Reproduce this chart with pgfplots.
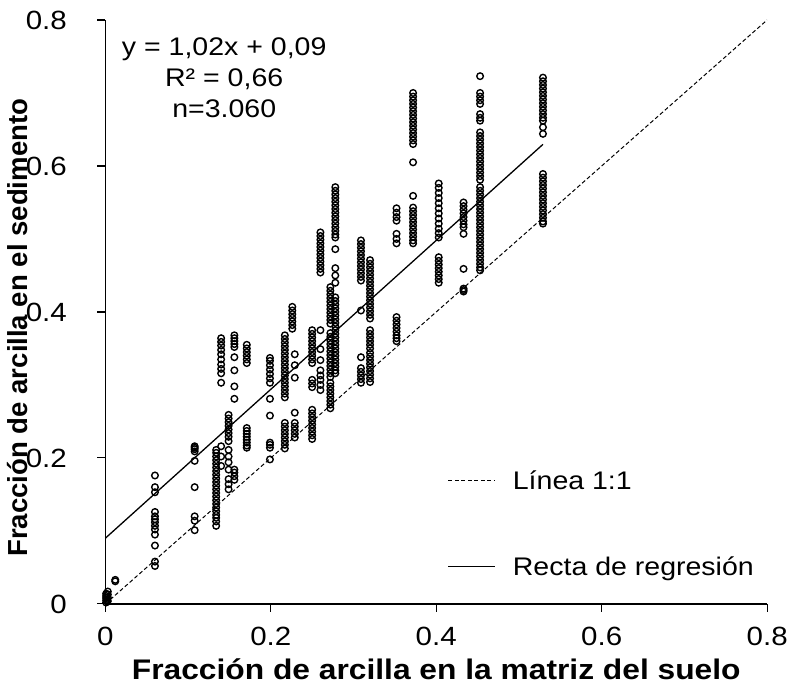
\documentclass[border=0pt]{standalone}
\usepackage{fontspec}
\setmainfont{Liberation Sans}[FakeStretch=1.12]
\newfontfamily\plainsans{Liberation Sans}
\usepackage{pgfplots}
\pgfplotsset{compat=1.18}
\begin{document}
\begin{tikzpicture}
\begin{axis}[
  scale only axis, width=663bp, height=585bp,
  xmin=0, xmax=0.8, ymin=0, ymax=0.8,
  axis x line*=bottom, axis y line*=left,
  axis line style={line width=1.2bp, -},
  xtick={0,0.2,0.4,0.6,0.8}, ytick={0,0.2,0.4,0.6,0.8},
  xticklabels={0,0.2,0.4,0.6,0.8}, yticklabels={0,0.2,0.4,0.6,0.8},
  tick align=outside, major tick length=8bp,
  tick style={black, line width=1.1bp},
  /pgf/number format/assume math mode=true,
  tick label style={font=\fontsize{26.5}{31}\selectfont},
  xticklabel style={yshift=-12bp},
  yticklabel style={xshift=-27bp},
  xlabel={\bfseries Fracción de arcilla en la matriz del suelo},
  ylabel={\plainsans\bfseries Fracción de arcilla en el sedimento},
  xlabel style={font=\fontsize{28.5}{34}\selectfont, at={(axis description cs:0.5,0)}, anchor=base, yshift=-76bp},
  ylabel style={font=\fontsize{27.7}{33}\selectfont, at={([xshift=-77bp]axis description cs:0,0.473)}, anchor=south, inner sep=0pt},
  legend style={draw=none, fill=none, at={(axis cs:0.41,0.110)}, anchor=west,
    row sep=62bp, font=\fontsize{25.6}{30}\selectfont, nodes={inner sep=2bp},
    /tikz/every odd column/.append style={column sep=15bp}},
  legend cell align=left,
  legend image code/.code={\draw[#1] (0bp,0bp) -- (47bp,0bp);},
]
\addplot[only marks, mark=o, mark size=3.3bp, mark options={line width=1.4bp, black}, forget plot] coordinates {
(0.001,0.002) (0.001,0.005) (0.001,0.008) (0.001,0.011) (0.001,0.014)
(0.003,0.004) (0.003,0.009) (0.003,0.013) (0.003,0.017)
(0.012,0.031) (0.012,0.033)
(0.060,0.176) (0.060,0.160) (0.060,0.153) (0.060,0.126) (0.060,0.120) (0.060,0.116) (0.060,0.112) (0.060,0.107) (0.060,0.102) (0.060,0.095) (0.060,0.080) (0.060,0.058) (0.060,0.052)
(0.108,0.209) (0.108,0.212) (0.108,0.214) (0.108,0.216) (0.108,0.196) (0.108,0.160) (0.108,0.120) (0.108,0.114) (0.108,0.101)
(0.134,0.107) (0.134,0.113) (0.134,0.118) (0.134,0.122) (0.134,0.127) (0.134,0.132) (0.134,0.137) (0.134,0.142) (0.134,0.147) (0.134,0.152) (0.134,0.157) (0.134,0.162) (0.134,0.167) (0.134,0.172) (0.134,0.177) (0.134,0.182) (0.134,0.187) (0.134,0.192) (0.134,0.197) (0.134,0.202) (0.134,0.207) (0.134,0.211)
(0.140,0.364) (0.140,0.359) (0.140,0.354) (0.140,0.348) (0.140,0.342) (0.140,0.335) (0.140,0.328) (0.140,0.322) (0.140,0.316) (0.140,0.303) (0.140,0.216) (0.140,0.202) (0.140,0.189)
(0.149,0.259) (0.149,0.254) (0.149,0.249) (0.149,0.244) (0.149,0.239) (0.149,0.234) (0.149,0.229) (0.149,0.223) (0.149,0.211) (0.149,0.202) (0.149,0.194) (0.149,0.184) (0.149,0.171) (0.149,0.164) (0.149,0.157)
(0.156,0.368) (0.156,0.364) (0.156,0.360) (0.156,0.356) (0.156,0.352) (0.156,0.338) (0.156,0.320) (0.156,0.298) (0.156,0.281) (0.156,0.184) (0.156,0.180) (0.156,0.175) (0.156,0.170)
(0.171,0.355) (0.171,0.350) (0.171,0.345) (0.171,0.340) (0.171,0.335) (0.171,0.330) (0.171,0.241) (0.171,0.237) (0.171,0.233) (0.171,0.229) (0.171,0.225) (0.171,0.221) (0.171,0.217) (0.171,0.214)
(0.199,0.337) (0.199,0.333) (0.199,0.327) (0.199,0.321) (0.199,0.315) (0.199,0.309) (0.199,0.303) (0.199,0.281) (0.199,0.258) (0.199,0.221) (0.199,0.218) (0.199,0.214) (0.199,0.198)
(0.217,0.368) (0.217,0.363) (0.217,0.358) (0.217,0.353) (0.217,0.348) (0.217,0.343) (0.217,0.338) (0.217,0.333) (0.217,0.328) (0.217,0.323) (0.217,0.318) (0.217,0.313) (0.217,0.308) (0.217,0.303) (0.217,0.298) (0.217,0.293) (0.217,0.288) (0.217,0.283)
(0.217,0.248) (0.217,0.243) (0.217,0.238) (0.217,0.233) (0.217,0.228) (0.217,0.223) (0.217,0.218) (0.217,0.213)
(0.226,0.407) (0.226,0.402) (0.226,0.397) (0.226,0.392) (0.226,0.387) (0.226,0.382) (0.226,0.377)
(0.229,0.342) (0.229,0.327) (0.229,0.310) (0.229,0.262) (0.229,0.248) (0.229,0.243) (0.229,0.238) (0.229,0.233) (0.229,0.228)
(0.250,0.375) (0.250,0.370) (0.250,0.365) (0.250,0.360) (0.250,0.355) (0.250,0.350) (0.250,0.345) (0.250,0.340) (0.250,0.335) (0.250,0.330) (0.250,0.307) (0.250,0.302) (0.250,0.297)
(0.250,0.266) (0.250,0.261) (0.250,0.256) (0.250,0.251) (0.250,0.246) (0.250,0.241) (0.250,0.236) (0.250,0.231) (0.250,0.226)
(0.260,0.509) (0.260,0.504) (0.260,0.499) (0.260,0.494) (0.260,0.489) (0.260,0.484) (0.260,0.479) (0.260,0.474) (0.260,0.469) (0.260,0.464) (0.260,0.459) (0.260,0.454) (0.260,0.375) (0.260,0.349) (0.260,0.334) (0.260,0.320) (0.260,0.313) (0.260,0.307) (0.260,0.300) (0.260,0.293)
(0.272,0.434) (0.272,0.429) (0.272,0.424) (0.272,0.419) (0.272,0.414) (0.272,0.409) (0.272,0.404) (0.272,0.399) (0.272,0.394) (0.272,0.389) (0.272,0.384) (0.272,0.371) (0.272,0.366) (0.272,0.361) (0.272,0.356) (0.272,0.351) (0.272,0.346) (0.272,0.341) (0.272,0.336) (0.272,0.331) (0.272,0.326) (0.272,0.321) (0.272,0.316) (0.272,0.311)
(0.272,0.303) (0.272,0.298) (0.272,0.293) (0.272,0.288) (0.272,0.283) (0.272,0.278) (0.272,0.273) (0.272,0.268)
(0.278,0.571) (0.278,0.566) (0.278,0.561) (0.278,0.556) (0.278,0.551) (0.278,0.546) (0.278,0.541) (0.278,0.536) (0.278,0.531) (0.278,0.526) (0.278,0.521) (0.278,0.516) (0.278,0.511) (0.278,0.506) (0.278,0.502) (0.278,0.486) (0.278,0.460) (0.278,0.450) (0.278,0.440)
(0.278,0.420) (0.278,0.415) (0.278,0.410) (0.278,0.405) (0.278,0.400) (0.278,0.395) (0.278,0.390) (0.278,0.385) (0.278,0.380) (0.278,0.375) (0.278,0.370) (0.278,0.365) (0.278,0.360) (0.278,0.355) (0.278,0.350) (0.278,0.345) (0.278,0.340) (0.278,0.335) (0.278,0.330) (0.278,0.325) (0.278,0.320) (0.278,0.316)
(0.309,0.498) (0.309,0.493) (0.309,0.488) (0.309,0.483) (0.309,0.478) (0.309,0.473) (0.309,0.468) (0.309,0.463) (0.309,0.458) (0.309,0.453) (0.309,0.448) (0.309,0.443) (0.309,0.402) (0.309,0.338) (0.309,0.323) (0.309,0.318) (0.309,0.313) (0.309,0.308) (0.309,0.303)
(0.320,0.471) (0.320,0.466) (0.320,0.461) (0.320,0.456) (0.320,0.451) (0.320,0.446) (0.320,0.441) (0.320,0.436) (0.320,0.431) (0.320,0.426) (0.320,0.421) (0.320,0.416) (0.320,0.411) (0.320,0.406) (0.320,0.401) (0.320,0.396) (0.320,0.391)
(0.320,0.375) (0.320,0.370) (0.320,0.365) (0.320,0.360) (0.320,0.355) (0.320,0.350) (0.320,0.344) (0.320,0.339) (0.320,0.334) (0.320,0.329) (0.320,0.324) (0.320,0.319) (0.320,0.314) (0.320,0.309) (0.320,0.304)
(0.352,0.542) (0.352,0.536) (0.352,0.530) (0.352,0.525) (0.352,0.507) (0.352,0.500) (0.352,0.494) (0.352,0.393) (0.352,0.388) (0.352,0.383) (0.352,0.378) (0.352,0.373) (0.352,0.368) (0.352,0.364) (0.352,0.360)
(0.372,0.700) (0.372,0.695) (0.372,0.690) (0.372,0.685) (0.372,0.680) (0.372,0.675) (0.372,0.670) (0.372,0.665) (0.372,0.660) (0.372,0.655) (0.372,0.650) (0.372,0.645) (0.372,0.640) (0.372,0.635) (0.372,0.630)
(0.372,0.605) (0.372,0.559) (0.372,0.543) (0.372,0.538) (0.372,0.533) (0.372,0.528) (0.372,0.523) (0.372,0.518) (0.372,0.513) (0.372,0.508) (0.372,0.503) (0.372,0.498) (0.372,0.494)
(0.403,0.576) (0.403,0.570) (0.403,0.563) (0.403,0.556) (0.403,0.549) (0.403,0.542) (0.403,0.535) (0.403,0.528) (0.403,0.521) (0.403,0.514) (0.403,0.508) (0.403,0.502) (0.403,0.475) (0.403,0.470) (0.403,0.465) (0.403,0.460) (0.403,0.455) (0.403,0.450) (0.403,0.445) (0.403,0.440)
(0.433,0.550) (0.433,0.545) (0.433,0.540) (0.433,0.535) (0.433,0.530) (0.433,0.525) (0.433,0.520) (0.433,0.516) (0.433,0.507) (0.433,0.459) (0.433,0.432) (0.433,0.430) (0.433,0.428)
(0.453,0.723) (0.453,0.700) (0.453,0.695) (0.453,0.690) (0.453,0.685) (0.453,0.671) (0.453,0.666) (0.453,0.662) (0.453,0.646) (0.453,0.641) (0.453,0.636) (0.453,0.631) (0.453,0.626) (0.453,0.621) (0.453,0.616) (0.453,0.611) (0.453,0.606) (0.453,0.601) (0.453,0.596) (0.453,0.591) (0.453,0.586) (0.453,0.581)
(0.453,0.571) (0.453,0.566) (0.453,0.561) (0.453,0.556) (0.453,0.551) (0.453,0.546) (0.453,0.541) (0.453,0.536) (0.453,0.531) (0.453,0.526) (0.453,0.521) (0.453,0.516) (0.453,0.511) (0.453,0.506) (0.453,0.501) (0.453,0.496) (0.453,0.491) (0.453,0.486) (0.453,0.481) (0.453,0.476) (0.453,0.471) (0.453,0.466) (0.453,0.461) (0.453,0.457)
(0.529,0.721) (0.529,0.716) (0.529,0.711) (0.529,0.706) (0.529,0.701) (0.529,0.696) (0.529,0.691) (0.529,0.686) (0.529,0.681) (0.529,0.676) (0.529,0.671) (0.529,0.666) (0.529,0.662) (0.529,0.653) (0.529,0.644)
(0.529,0.589) (0.529,0.584) (0.529,0.579) (0.529,0.574) (0.529,0.569) (0.529,0.564) (0.529,0.559) (0.529,0.554) (0.529,0.549) (0.529,0.544) (0.529,0.539) (0.529,0.534) (0.529,0.529) (0.529,0.524) (0.529,0.521)
};
\addplot[black, line width=1bp, dash pattern=on 4bp off 2.5bp] coordinates {(0,0) (0.8,0.8)};
\addlegendentry{Línea 1:1}
\addplot[black, line width=1.3bp] coordinates {(0,0.09) (0.529,0.6296)};
\addlegendentry{Recta de regresión}
\node[align=center, font=\fontsize{25.6}{31.5}\selectfont] at (axis cs:0.1437,0.721) {y = 1,02x + 0,09\\R² = 0,66\\n=3.060};
\end{axis}
\path ([shift={(-105.5bp,-90bp)}]current axis.south west) rectangle ([shift={(22.7bp,20bp)}]current axis.north east);
\end{tikzpicture}
\end{document}
